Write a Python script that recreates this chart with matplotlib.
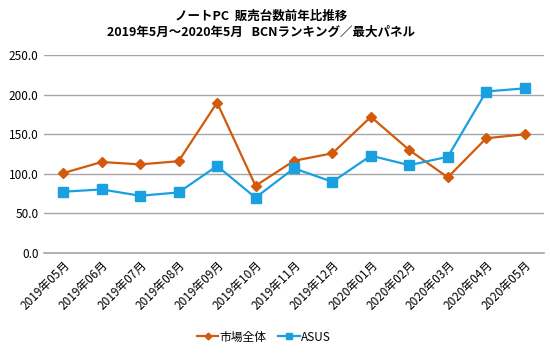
import numpy as np
import matplotlib.pyplot as plt

plt.rcParams['font.family'] = ['Noto Sans CJK JP', 'DejaVu Sans']

months = ['2019年05月', '2019年06月', '2019年07月', '2019年08月', '2019年09月',
          '2019年10月', '2019年11月', '2019年12月', '2020年01月', '2020年02月',
          '2020年03月', '2020年04月', '2020年05月']
market = [101, 115, 112, 116, 190, 85, 116.5, 126, 172, 130, 95.6, 145, 150]
asus = [77.5, 80.4, 72.4, 76.6, 110, 70, 107, 90, 123, 111, 121.6, 204, 208]

fig = plt.figure(figsize=(5.5, 3.53), dpi=100)
ax = fig.add_axes([0.08, 0.283, 0.909, 0.561])

x = np.arange(len(months))
ax.plot(x, market, color='#D35a0c', lw=1.6, marker='D', ms=5, label='市場全体')
ax.plot(x, asus, color='#1aa0e0', lw=1.6, marker='s', ms=6.5, label='ASUS')

ax.set_xlim(-0.5, len(months) - 0.5)
ax.set_ylim(0, 250)
ax.set_yticks(np.arange(0, 251, 50))
ax.set_yticklabels(['%.1f' % v for v in np.arange(0, 251, 50)], fontsize=8.5)
ax.set_xticks(x)
ax.set_xticklabels(months, rotation=45, ha='right', rotation_mode='anchor', fontsize=8.5)
ax.grid(axis='y', color='#a6a6a6', lw=1)
ax.axhline(0, color='#a6a6a6', lw=1.2, clip_on=False, zorder=0.5)
ax.set_axisbelow(True)
for s in ax.spines.values():
    s.set_visible(False)
ax.tick_params(length=0, pad=4)

fig.text(0.475, 0.955, 'ノートPC  販売台数前年比推移', ha='center', va='center',
         fontsize=9, fontweight='bold')
fig.text(0.475, 0.908, '2019年5月～2020年5月   BCNランキング／最大パネル', ha='center',
         va='center', fontsize=9, fontweight='bold')

fig.legend(loc='center', bbox_to_anchor=(0.48, 0.045), ncol=2, frameon=False,
           fontsize=8.5, handlelength=1.8, columnspacing=1.0, handletextpad=0.1,
           markerscale=0.7)

fig.savefig('out.png', dpi=100)
